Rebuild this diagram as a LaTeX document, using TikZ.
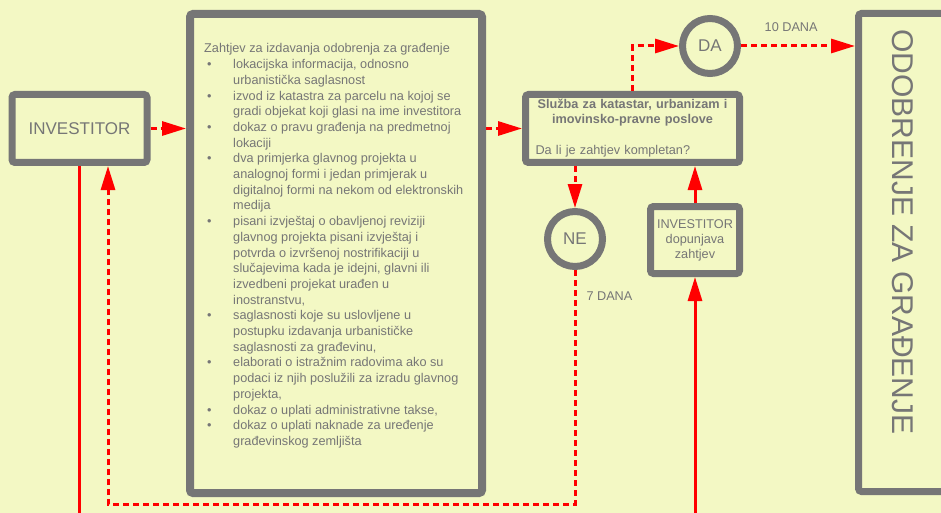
\documentclass[tikz,border=0pt]{standalone}
\usepackage{fontspec}
\setmainfont{Liberation Sans}
\usetikzlibrary{arrows.meta}
\definecolor{bg}{RGB}{243,248,196}
\definecolor{frame}{RGB}{118,118,118}
\newcommand{\bul}{\makebox[29pt][l]{\hspace{3pt}•}}
\newcommand{\ind}{\hspace*{29pt}}

\begin{document}
\begin{tikzpicture}[x=1pt,y=-1pt,
  box/.style={draw=frame, fill=bg, line width=7pt, rounded corners=3pt, text=frame, inner sep=0pt},
  circ/.style={circle, draw=frame, fill=bg, line width=7pt, minimum size=55pt, text=frame, inner sep=0pt, font=\fontsize{17}{20}\selectfont},
  small/.style={text=frame, inner sep=0pt, font=\fontsize{12.7}{15.7}\selectfont},
  link/.style={red, line width=3pt, -{Triangle[length=24pt,width=14pt]}},
  dlink/.style={link, dash pattern=on 6pt off 4pt}]
  \useasboundingbox (0,0) rectangle (941,513);
  \fill[bg] (0,0) rectangle (941,513);
  \clip (0,0) rectangle (941,513);
  \node[box, minimum width=135, minimum height=68, font=\fontsize{17}{20}\selectfont] (inv) at (79.5,128.5) {INVESTITOR};
  \node[box, line width=8pt, minimum width=292, minimum height=479] (req) at (336,253.5) {};
  \node[small, align=left, anchor=north west] (reqtext) at (204,43.5) {Zahtjev za izdavanja odobrenja za građenje\\
    \bul lokacijska informacija, odnosno\\
    \ind urbanistička saglasnost\\
    \bul izvod iz katastra za parcelu na kojoj se\\
    \ind gradi objekat koji glasi na ime investitora\\
    \bul dokaz o pravu građenja na predmetnoj\\
    \ind lokaciji\\
    \bul dva primjerka glavnog projekta u\\
    \ind analognoj formi i jedan primjerak u\\
    \ind digitalnoj formi na nekom od elektronskih\\
    \ind medija\\
    \bul pisani izvještaj o obavljenoj reviziji\\
    \ind glavnog projekta pisani izvještaj i\\
    \ind potvrda o izvršenoj nostrifikaciji u\\
    \ind slučajevima kada je idejni, glavni ili\\
    \ind izvedbeni projekat urađen u\\
    \ind inostranstvu,\\
    \bul saglasnosti koje su uslovljene u\\
    \ind postupku izdavanja urbanističke\\
    \ind saglasnosti za građevinu,\\
    \bul elaborati o istražnim radovima ako su\\
    \ind podaci iz njih poslužili za izradu glavnog\\
    \ind projekta,\\
    \bul dokaz o uplati administrativne takse,\\
    \bul dokaz o uplati naknade za uređenje\\
    \ind građevinskog zemljišta};
  \node[box, minimum width=214, minimum height=68, text width=194pt, align=left, font=\fontsize{12.7}{15}\selectfont] (sluzba) at (632.5,128.5)
    {{\centering\bfseries Služba za katastar, urbanizam i\\ imovinsko-pravne poslove\par}\vspace{16pt}Da li je zahtjev kompletan?};
  \node[circ] (da) at (710,46) {DA};
  \node[circ] (ne) at (575,239) {NE};
  \node[box, minimum width=89, minimum height=67, align=center, font=\fontsize{12.7}{15}\selectfont] (dop) at (695,240) {INVESTITOR\\dopunjava\\zahtjev};
  \node[box, minimum width=89, minimum height=478] (odob) at (903,252.5) {};
  \node[rotate=-90, text=frame, font=\fontsize{30}{36}\selectfont] (odobtext) at (903,232) {ODOBRENJE ZA GRAĐENJE};
  \coordinate (bottom) at (0,513);
  \coordinate (back) at (108,504);
  \draw[dlink] (inv) -- (inv -| req.west);
  \draw[dlink] (req.east |- sluzba) -- (sluzba);
  \draw[dlink] (sluzba.north) |- (da);
  \draw[dlink] (da) -- node[small, pos=0.44, above=13pt] {10 DANA} (da -| odob.west);
  \draw[dlink] (ne.north |- sluzba.south) -- (ne);
  \draw[dlink] (ne.south) |- node[small, pos=0.055, right=10pt] {7 DANA} (back) -- (back |- inv.south);
  \draw[link, -] (inv.south) -- (inv.south |- bottom);
  \draw[link] (dop.south |- bottom) -- (dop);
  \draw[link] (dop) -- (dop.north |- sluzba.south);
\end{tikzpicture}
\end{document}
